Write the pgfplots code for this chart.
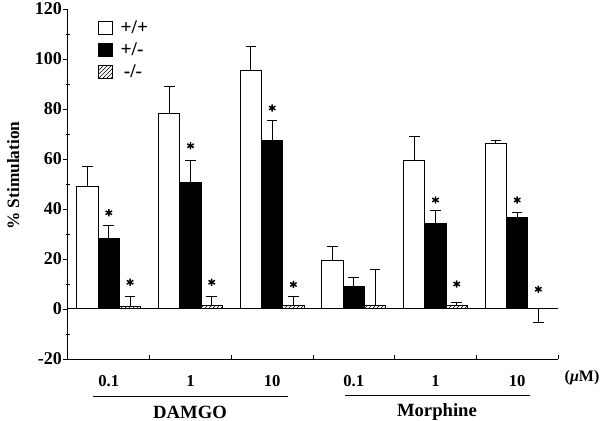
\documentclass[border=0pt]{standalone}
\usepackage{fontspec}
\setmainfont{Liberation Serif}
\usepackage{pgfplots}
\pgfplotsset{compat=1.18}
\usetikzlibrary{patterns}
\pgfplotsset{boxlegend/.style={legend image code/.code={\draw[##1] (0pt,-5pt) rectangle (10.5pt,5pt);}}}
\begin{document}
\begin{tikzpicture}
\begin{axis}[
  at={(0,0)}, anchor=south west,
  scale only axis, width=367.5pt, height=262.5pt,
  xmin=-0.5, xmax=5.5, ymin=-20, ymax=120,
  axis lines*=left,
  axis line style={-, line width=0.75pt},
  clip=false,
  xtick={0,...,5}, xticklabels={0.1,1,10,0.1,1,10},
  major x tick style={draw=none},
  minor xtick={0.5,1.5,2.5,3.5,4.5,5.5},
  minor x tick style={yshift=3pt},
  tick align=outside,
  ytick={-20,0,...,120},
  minor ytick={-10,10,...,110},
  major tick length=4pt, minor tick length=3pt,
  minor y tick style={xshift=1.5pt},
  tick style={black, line width=0.6pt},
  yticklabel style={font=\bfseries\fontsize{13.5}{15}\selectfont, xshift=3pt},
  xticklabel style={font=\bfseries\fontsize{12.5}{14}\selectfont, yshift=-4.5pt},
  /pgf/number format/assume math mode=true,
  ylabel={\% Stimulation},
  ylabel style={at={(axis description cs:-0.112,0.524)}, anchor=center, rotate=0, font=\bfseries\fontsize{13}{15}\selectfont},
  extra y ticks={0}, extra y tick labels={},
  extra y tick style={grid=major, major grid style={black, line width=0.75pt}},
  bar width=0.26,
  legend style={draw=none, fill=none, at={(axis description cs:0.06,0.975)}, anchor=north west, inner sep=0pt, row sep=1.5pt, column sep=4pt, font=\bfseries\fontsize{14.5}{16}\selectfont},
  legend cell align=left,
]
% +/+
\addplot[ybar, bar shift=0, fill=white, draw=black, line width=0.75pt, forget plot,
  error bars/.cd, y dir=plus, y explicit,
  error bar style={black, line width=0.75pt}, error mark options={rotate=90, black, line width=0.75pt, mark size=4pt}]
  coordinates {
  (-0.26,49) +- (0,8)
  (0.74,78) +- (0,11)
  (1.74,95.5) +- (0,9.5)
  (2.74,19.5) +- (0,5.3)
  (3.74,59.5) +- (0,9.5)
  (4.74,66) +- (0,1.2)
  };
% +/-
\addplot[ybar, bar shift=0, fill=black, draw=black, line width=0.75pt, forget plot,
  error bars/.cd, y dir=plus, y explicit,
  error bar style={black, line width=0.75pt}, error mark options={rotate=90, black, line width=0.75pt, mark size=4pt}]
  coordinates {
  (0,28.3) +- (0,5.2)
  (1,50.5) +- (0,9)
  (2,67.3) +- (0,8)
  (3,9) +- (0,3.5)
  (4,34.2) +- (0,5)
  (5,36.5) +- (0,2.2)
  };
% -/-
\addplot[ybar, bar shift=0, pattern=north east lines, draw=black, line width=0.75pt, forget plot,
  error bars/.cd, y dir=both, y explicit,
  error bar style={black, line width=0.75pt}, error mark options={rotate=90, black, line width=0.75pt, mark size=4pt}]
  coordinates {
  (0.26,0.8) += (0,4.3) -= (0,0)
  (1.26,1.5) += (0,3.5) -= (0,0)
  (2.26,1.5) += (0,3.5) -= (0,0)
  (3.26,1.2) += (0,14.6) -= (0,0)
  (4.26,1.2) += (0,1.5) -= (0,0)
  (5.26,0.3) += (0,0) -= (0,5.8)
  };
% asterisks
\addplot[only marks, mark=asterisk, mark size=2.8pt, line width=1.1pt, black, forget plot]
  coordinates {(0,38.5) (1,65.3) (2,80.4) (4,43.6) (5,43.6)};
\addplot[only marks, mark=asterisk, mark size=2.8pt, line width=1.1pt, black, forget plot]
  coordinates {(0.26,10.7) (1.26,10.7) (2.26,9.8) (4.26,10) (5.26,7.9)};
\addlegendimage{boxlegend, fill=white, draw=black, line width=0.75pt}
\addlegendentry{+/+}
\addlegendimage{boxlegend, fill=black, draw=black, line width=0.75pt}
\addlegendentry{+/-}
\addlegendimage{boxlegend, pattern=north east lines, draw=black, line width=0.75pt}
\addlegendentry{\,-/-}
\node[font=\bfseries\fontsize{12}{14}\selectfont] at (axis description cs:1.049,-0.054) {(\textit{μ}M)};
\draw[line width=0.75pt] (axis description cs:0.051,-0.108) -- (axis description cs:0.449,-0.108);
\draw[line width=0.75pt] (axis description cs:0.565,-0.104) -- (axis description cs:0.943,-0.104);
\node[font=\bfseries\fontsize{14}{16}\selectfont] at (axis description cs:0.249,-0.152) {DAMGO};
\node[font=\bfseries\fontsize{14}{16}\selectfont] at (axis description cs:0.753,-0.152) {Morphine};
\end{axis}
\pgfresetboundingbox
\path[use as bounding box] (-51pt,-46.5pt) rectangle (399pt,269.25pt);
\end{tikzpicture}
\end{document}
